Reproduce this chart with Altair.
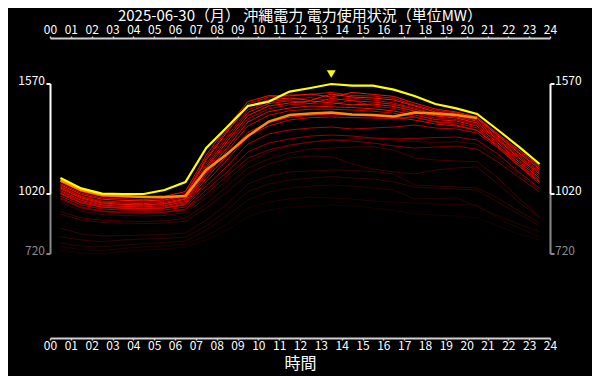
import altair as alt
import pandas as pd

FONT = "Noto Sans CJK JP"
TITLE = "2025-06-30（月） 沖縄電力 電力使用状況（単位MW）"
X_TITLE = "時間"

# half-hour positions of the hourly values
hours = [0.5, 1.5, 2.5, 3.5, 4.5, 5.5, 6.5, 7.5, 8.5, 9.5, 10.5, 11.5,
         12.5, 13.5, 14.5, 15.5, 16.5, 17.5, 18.5, 19.5, 20.5, 21.5, 22.5, 23.5]
hour_ticks = [0, 1, 2, 3, 4, 5, 6, 7, 8, 9, 10, 11, 12, 13, 14, 15, 16, 17,
              18, 19, 20, 21, 22, 23, 24]

# forecast for the day (yellow)
forecast = [1100, 1048, 1022, 1020, 1020, 1040, 1080, 1250, 1355, 1460, 1482, 1532,
            1550, 1570, 1562, 1562, 1542, 1510, 1470, 1448, 1420, 1340, 1257, 1170]
# actual so far (orange)
actual = [1088, 1040, 1015, 1010, 1005, 1005, 1010, 1140, 1220, 1310, 1382, 1415,
          1423, 1428, 1418, 1415, 1408, 1427, 1423, 1415, 1400]

# past days (values) and how many days ago each one is
past_days = [
    [1080, 1032, 1008, 1005, 1003, 1008, 1032, 1215, 1355, 1482, 1512, 1510, 1520, 1505, 1528, 1518, 1508, 1475, 1445, 1430, 1405, 1320, 1240, 1160],
    [1072, 1025, 1000, 996, 992, 998, 1018, 1200, 1340, 1470, 1505, 1515, 1518, 1528, 1512, 1510, 1498, 1465, 1438, 1425, 1400, 1315, 1232, 1152],
    [1066, 1018, 994, 988, 986, 990, 1012, 1190, 1330, 1460, 1490, 1500, 1488, 1520, 1505, 1500, 1490, 1460, 1430, 1420, 1398, 1310, 1225, 1145],
    [1060, 1010, 985, 980, 978, 984, 1005, 1170, 1310, 1440, 1482, 1492, 1502, 1486, 1500, 1490, 1475, 1450, 1420, 1412, 1390, 1302, 1215, 1135],
    [1056, 1006, 980, 974, 972, 978, 998, 1158, 1296, 1428, 1472, 1486, 1472, 1498, 1486, 1480, 1468, 1444, 1416, 1406, 1384, 1296, 1208, 1128],
    [1050, 1000, 975, 968, 966, 972, 994, 1148, 1282, 1412, 1460, 1475, 1485, 1476, 1466, 1470, 1458, 1435, 1410, 1400, 1375, 1290, 1200, 1120],
    [1045, 995, 970, 964, 962, 968, 988, 1136, 1268, 1396, 1446, 1466, 1472, 1468, 1488, 1460, 1448, 1425, 1400, 1392, 1368, 1282, 1190, 1110],
    [1038, 988, 965, 958, 956, 962, 982, 1124, 1252, 1380, 1432, 1450, 1460, 1456, 1452, 1446, 1435, 1415, 1392, 1385, 1360, 1275, 1182, 1100],
    [1032, 982, 960, 952, 950, 956, 976, 1112, 1236, 1360, 1414, 1436, 1444, 1444, 1440, 1434, 1424, 1404, 1382, 1375, 1350, 1265, 1172, 1090],
    [1025, 976, 954, 948, 946, 950, 970, 1098, 1212, 1328, 1378, 1404, 1414, 1420, 1414, 1410, 1404, 1390, 1370, 1360, 1338, 1255, 1162, 1078],
    [1020, 975, 955, 950, 948, 950, 965, 1080, 1190, 1310, 1360, 1390, 1402, 1405, 1402, 1400, 1398, 1405, 1380, 1365, 1340, 1260, 1170, 1082],
    [1010, 965, 945, 940, 938, 940, 955, 1060, 1160, 1270, 1320, 1340, 1350, 1355, 1345, 1350, 1355, 1365, 1350, 1345, 1325, 1250, 1160, 1070],
    [1000, 955, 935, 930, 928, 930, 945, 1040, 1130, 1230, 1275, 1295, 1310, 1315, 1310, 1300, 1295, 1298, 1302, 1305, 1290, 1220, 1130, 1050],
    [995, 950, 932, 925, 925, 928, 940, 1020, 1110, 1200, 1240, 1265, 1280, 1290, 1285, 1275, 1260, 1250, 1255, 1260, 1245, 1180, 1105, 1030],
    [980, 935, 918, 912, 910, 913, 925, 1000, 1090, 1180, 1230, 1260, 1280, 1290, 1295, 1300, 1290, 1282, 1278, 1282, 1270, 1200, 1120, 1040],
    [932, 900, 890, 885, 882, 886, 898, 970, 1060, 1150, 1195, 1225, 1245, 1250, 1255, 1257, 1240, 1200, 1190, 1185, 1182, 1100, 1000, 907],
    [920, 890, 878, 875, 872, 875, 885, 950, 1030, 1120, 1170, 1200, 1210, 1207, 1170, 1145, 1130, 1120, 1140, 1150, 1155, 1070, 980, 900],
    [850, 820, 810, 812, 815, 818, 825, 890, 970, 1070, 1110, 1130, 1135, 1140, 1138, 1132, 1120, 1065, 1060, 1055, 1050, 1000, 935, 875],
    [807, 790, 782, 790, 795, 798, 805, 860, 940, 1032, 1070, 1090, 1100, 1107, 1100, 1095, 1080, 1055, 1050, 1045, 1040, 980, 920, 860],
    [775, 760, 755, 765, 772, 778, 785, 840, 910, 990, 1030, 1050, 1060, 1065, 1060, 1050, 1040, 995, 998, 1000, 957, 910, 870, 832],
    [757, 742, 738, 748, 755, 760, 768, 810, 870, 950, 980, 995, 1005, 1000, 995, 985, 980, 975, 970, 968, 965, 900, 850, 807],
    [740, 725, 720, 732, 740, 745, 755, 790, 840, 907, 940, 955, 960, 965, 960, 950, 938, 920, 915, 910, 900, 860, 820, 790],
]
days_ago = [3, 7, 1, 9, 5, 2, 10, 4, 8, 6, 11, 12, 13, 14, 15, 16, 17, 18, 19, 20, 21, 22]

# y-axis bracket marks: forecast max, forecast min, overall min
bracket_values = [1570, 1020, 720]
bracket_kind = ["day", "day", "range"]

# ---- tables ----
rows = []
for ago, series in zip(days_ago, past_days):
    for h, v in zip(hours, series):
        rows.append({"hour": h, "mw": v, "ago": ago})
hist_df = pd.DataFrame(rows).sort_values("ago", ascending=False, kind="stable")
fc_df = pd.DataFrame({"hour": hours, "mw": forecast})
act_df = pd.DataFrame({"hour": hours[:len(actual)], "mw": actual})
peak_i = forecast.index(max(forecast))
peak_df = pd.DataFrame({"hour": [hours[peak_i]], "mw": [forecast[peak_i]]})
ticks_df = pd.DataFrame({"v": bracket_values, "kind": bracket_kind,
                         "label": [str(v) for v in bracket_values]})
seg_df = pd.DataFrame({"y1": bracket_values[:2], "y2": bracket_values[1:],
                       "kind": ["day", "range"]})
title_df = pd.DataFrame({"t": [TITLE]})

xscale = alt.Scale(domain=[0, 24], nice=False, zero=False)
yscale = alt.Scale(domain=[300, 1800], nice=False, zero=False)
kind_color = alt.Scale(domain=["day", "range"], range=["#ffffff", "#8a8a8a"])


def x_axis(orient, title):
    kw = dict(orient=orient, values=hour_ticks,
              labelExpr="datum.value < 10 ? '0' + datum.value : '' + datum.value",
              grid=False, domainColor="#d0d0d0", domainWidth=2, tickColor="#d0d0d0",
              tickWidth=1.5, tickSize=2, labelColor="#ffffff", labelFontSize=12,
              labelFont=FONT, labelPadding=0, labelFlush=False, labelOverlap=False)
    if title:
        kw.update(title=title, titleColor="#ffffff", titleFontSize=16, titleFont=FONT,
                  titleFontWeight="normal", titlePadding=4)
    else:
        kw.update(title=None)
    return alt.Axis(**kw)


hist = alt.Chart(hist_df).mark_line(strokeWidth=1).encode(
    x=alt.X("hour:Q", scale=xscale, axis=x_axis("bottom", X_TITLE)),
    y=alt.Y("mw:Q", scale=yscale, axis=None),
    color=alt.Color("ago:Q", legend=None,
                    scale=alt.Scale(domain=[1, 10, 11, 14, 15, 22],
                                    range=["#ff1800", "#b80000", "#d00000", "#7a0000",
                                           "#4a0000", "#1c0000"])),
)
act_line = alt.Chart(act_df).mark_line(strokeWidth=2.5, color="#ff8c00").encode(
    x=alt.X("hour:Q", scale=xscale, axis=x_axis("top", None)),
    y=alt.Y("mw:Q", scale=yscale, axis=None),
)
fc_line = alt.Chart(fc_df).mark_line(strokeWidth=2.2, color="#ffff00").encode(
    x=alt.X("hour:Q", scale=xscale, axis=None),
    y=alt.Y("mw:Q", scale=yscale, axis=None),
)
peak = alt.Chart(peak_df).mark_point(shape="triangle-down", filled=True, size=80,
                                     color="#ffff00", opacity=1, yOffset=-10).encode(
    x=alt.X("hour:Q", scale=xscale, axis=None),
    y=alt.Y("mw:Q", scale=yscale, axis=None),
)
title = alt.Chart(title_df).mark_text(fontSize=15, font=FONT, color="#ffffff",
                                      align="center", baseline="middle").encode(
    x=alt.value(250), y=alt.value(-22), text="t:N")

layers = []
for xpos, cap_x2, text_x, align in [(0.5, -3.5, -5, "right"),
                                    (500.5, 504.5, 505, "left")]:
    layers.append(alt.Chart(seg_df).mark_rule(strokeWidth=2).encode(
        x=alt.value(xpos), y=alt.Y("y1:Q", scale=yscale, axis=None), y2="y2:Q",
        color=alt.Color("kind:N", scale=kind_color, legend=None)))
    layers.append(alt.Chart(ticks_df).mark_rule(strokeWidth=2).encode(
        x=alt.value(xpos), x2=alt.value(cap_x2),
        y=alt.Y("v:Q", scale=yscale, axis=None),
        color=alt.Color("kind:N", scale=kind_color, legend=None)))
    layers.append(alt.Chart(ticks_df).mark_text(align=align, baseline="alphabetic", dy=1,
                                                fontSize=12, font=FONT).encode(
        x=alt.value(text_x), y=alt.Y("v:Q", scale=yscale, axis=None), text="label:N",
        color=alt.Color("kind:N", scale=kind_color, legend=None)))

chart = alt.layer(hist, act_line, fc_line, peak, title, *layers).resolve_axis(
    x="independent").properties(
    width=500, height=300,
    background="#000000",
    autosize=alt.AutoSizeParams(type="none"),
    padding={"left": 42, "right": 42, "top": 30, "bottom": 38},
).configure_view(stroke=None)

chart.save("out.html", embed_options={"renderer": "svg", "actions": False})
